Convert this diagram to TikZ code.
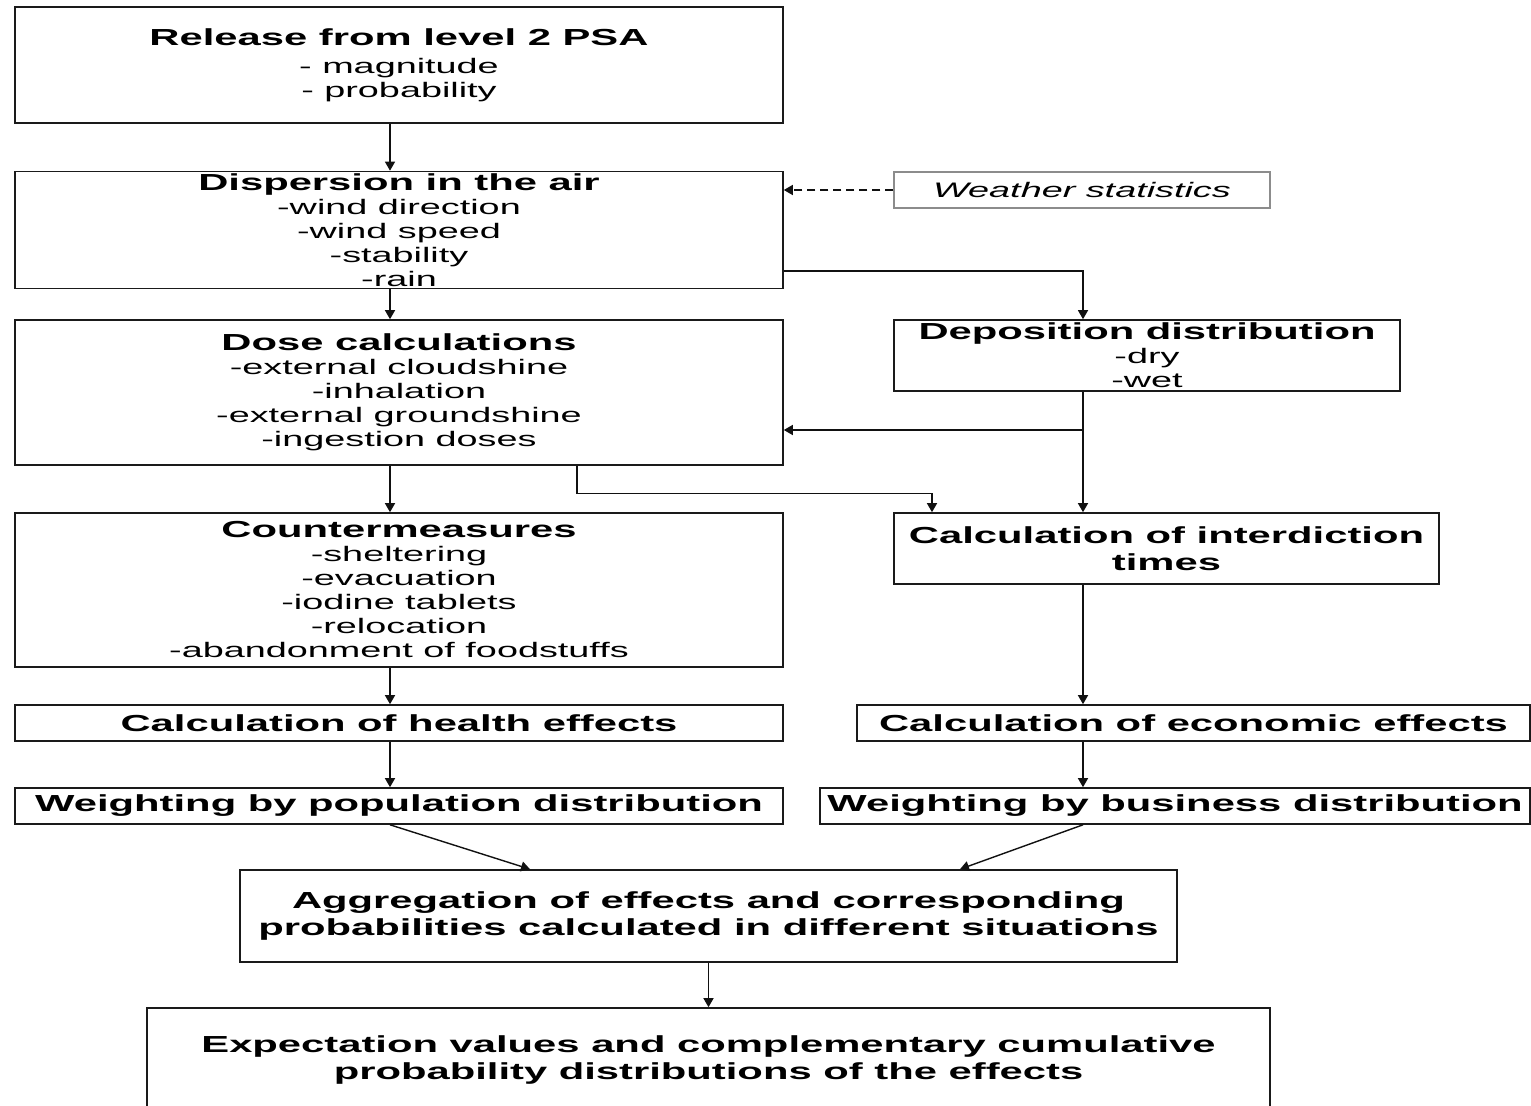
\documentclass[tikz,border=0pt]{standalone}
\usepackage{fontspec}
\setmainfont{Liberation Sans}[FakeStretch=1.8]
\usetikzlibrary{arrows.meta,positioning,calc}
\definecolor{BoxRule}{HTML}{1A1A1A}
\definecolor{NoteRule}{HTML}{8C8C8C}
\definecolor{Ink}{HTML}{111111}
\newcommand{\boxtitle}[1]{{\fontsize{11.6}{13.5}\selectfont\bfseries #1}}

\begin{document}
\begin{tikzpicture}[x=0.5pt, y=-0.5pt,
  box/.style={draw=BoxRule, line width=0.8pt, inner sep=1pt, align=center,
              font=\fontsize{10.5}{12}\selectfont},
  hd/.style={box, font=\fontsize{11.6}{13.5}\selectfont\bfseries},
  note/.style={draw=NoteRule, line width=0.6pt, inner sep=1pt,
               font=\fontsize{10.5}{12}\selectfont\itshape},
  arr/.style={-{Triangle[length=4.5pt,width=5pt]}, line width=0.7pt, draw=Ink},
  darr/.style={arr, dash pattern=on 4pt off 2.5pt}]
  \useasboundingbox (0,0) rectangle (1531,1106);
  \coordinate (lc) at (390,0);
  \coordinate (rc) at (1083,0);
  % left column
  \node[box, minimum width=384pt, minimum height=58pt] (rel) at (399,65)
    {\boxtitle{Release from level 2 PSA}\\[2pt]- magnitude\\- probability};
  \node[box, minimum width=384pt, minimum height=58pt] (disp) at (399,230)
    {\boxtitle{Dispersion in the air}\\-wind direction\\-wind speed\\-stability\\-rain};
  \node[box, minimum width=384pt, minimum height=72.5pt] (dose) at (399,392.5)
    {\boxtitle{Dose calculations}\\-external cloudshine\\-inhalation\\-external groundshine\\-ingestion doses};
  \node[box, minimum width=384pt, minimum height=77pt] (cm) at (399,590)
    {\boxtitle{Countermeasures}\\-sheltering\\-evacuation\\-iodine tablets\\-relocation\\-abandonment of foodstuffs};
  \node[hd, minimum width=384pt, minimum height=18pt] (health) at (399,723)
    {Calculation of health effects};
  \node[hd, minimum width=384pt, minimum height=18pt] (pop) at (399,806)
    {Weighting by population distribution};
  % right column
  \node[note, minimum width=188pt, minimum height=18pt] (wx) at (1082,190)
    {Weather statistics};
  \node[box, minimum width=253pt, minimum height=35.5pt] (dep) at (1147,355.5)
    {\boxtitle{Deposition distribution}\\-dry\\-wet};
  \node[hd, minimum width=272.5pt, minimum height=35.5pt] (intd) at (1166.5,548.5)
    {Calculation of interdiction\\times};
  \node[hd, minimum width=336.5pt, minimum height=18pt] (econ) at (1193.5,723)
    {Calculation of economic effects};
  \node[hd, minimum width=355pt, minimum height=18pt, inner xsep=0pt] (bus) at (1175,806)
    {Weighting by business distribution};
  % bottom
  \node[hd, minimum width=468.5pt, minimum height=46pt] (agg) at (708.5,916)
    {Aggregation of effects and corresponding\\probabilities calculated in different situations};
  \node[hd, minimum width=561.5pt, minimum height=52pt] (exp) at (708.5,1060)
    {Expectation values and complementary cumulative\\probability distributions of the effects};

  \draw[arr] (rel.south -| lc) -- (disp.north -| lc);
  \draw[darr] (wx.west) -- (wx.west -| disp.east);
  \draw[arr] (disp.south -| lc) -- (dose.north -| lc);
  \draw[arr] ([yshift=-20.5pt]disp.east) -| (dep.north -| rc);
  \draw[arr] (dep.south -| rc) -- (intd.north -| rc);
  \draw[arr] ([yshift=-18.75pt]dose.east -| rc) -- ([yshift=-18.75pt]dose.east);
  \draw[arr] (dose.south -| lc) -- (cm.north -| lc);
  \draw[arr] ([xshift=89pt]dose.south) -- ++(0,28) -| ([xshift=-117.25pt]intd.north);
  \draw[arr] (cm.south -| lc) -- (health.north -| lc);
  \draw[arr] (intd.south -| rc) -- (econ.north -| rc);
  \draw[arr] (health.south -| lc) -- (pop.north -| lc);
  \draw[arr] (econ.south -| rc) -- (bus.north -| rc);
  \draw[arr] (pop.south -| lc) -- ([xshift=-89.25pt]agg.north);
  \draw[arr] (bus.south -| rc) -- ([xshift=125.75pt]agg.north);
  \draw[arr] (agg.south) -- (exp.north);
\end{tikzpicture}
\end{document}
